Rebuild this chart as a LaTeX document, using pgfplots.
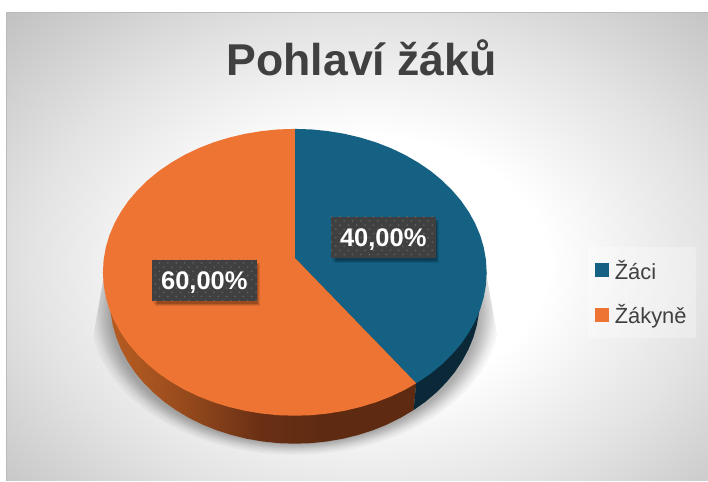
\documentclass[border=0pt]{standalone}
\usepackage{fontspec}
\setmainfont{Liberation Sans}
\usepackage{pgfplots}
\pgfplotsset{compat=1.18}
\usetikzlibrary{patterns.meta}
\definecolor{blueT}{HTML}{146183}
\definecolor{orangeT}{HTML}{EE7433}
\definecolor{blueL}{HTML}{156082}
\definecolor{orangeL}{HTML}{E97132}
\definecolor{blueS}{HTML}{0A2837}
\definecolor{oA}{HTML}{B85C22}
\definecolor{oB}{HTML}{A8541F}
\definecolor{oC}{HTML}{8F461B}
\definecolor{oD}{HTML}{6A3015}
\definecolor{oE}{HTML}{5E2B12}
\definecolor{txt}{HTML}{404040}
\pgfdeclareradialshading{bgpanel}{\pgfpointorigin}{color(0bp)=(white); color(12bp)=(white); color(23bp)=(black!11); color(34bp)=(black!24); color(100bp)=(black!24)}
\pgfdeclareverticalshading{sideorange}{100bp}{color(0bp)=(oA); color(25bp)=(oA); color(32.5bp)=(oB); color(40bp)=(oC); color(50bp)=(oD); color(60bp)=(oE); color(100bp)=(oE)}
\newcommand{\datalabel}[3]{%
  \fill[black,opacity=.08] (axis cs:#1+1,#2+3) rectangle (axis cs:#1+106,#2+44);
  \fill[black,opacity=.10] (axis cs:#1+3,#2+3) rectangle (axis cs:#1+108,#2+46);
  \fill[black,opacity=.10] (axis cs:#1+4,#2+4) rectangle (axis cs:#1+107,#2+45);
  \fill[black,opacity=.12] (axis cs:#1+5,#2+5) rectangle (axis cs:#1+106,#2+44);
  \fill[txt] (axis cs:#1,#2) rectangle (axis cs:#1+105,#2+41);
  \begin{scope}
  \clip (axis cs:#1,#2) rectangle (axis cs:#1+105,#2+41);
  \fill[pattern={Dots[distance=8.4bp,radius=.9bp]},pattern color=white!18!txt] (axis cs:#1,#2) rectangle (axis cs:#1+105,#2+41);
  \fill[pattern={Dots[distance=8.4bp,radius=.9bp,xshift=4.2bp,yshift=4.2bp]},pattern color=white!18!txt] (axis cs:#1,#2) rectangle (axis cs:#1+105,#2+41);
  \end{scope}
  \node[text=white,inner sep=0pt,font=\bfseries\fontsize{25.6}{28}\selectfont] at (axis cs:#1+52.5,#2+22.5) {#3};
}
\newcommand{\shadowlayer}[2]{\fill[black,opacity=.035] (axis cs:295,312) ellipse [x radius=#1,y radius=#2];}
\begin{document}
\begin{tikzpicture}
\begin{axis}[
  width=708bp,height=481bp,scale only axis,
  xmin=0,xmax=708,ymin=0,ymax=481,y dir=reverse,
  axis lines=none,clip=false,
  title={Pohlaví žáků},
  title style={at={(axis cs:362,64)},anchor=center,inner sep=0pt,text=txt,font=\bfseries\fontsize{44.8}{50}\selectfont},
  legend style={at={(axis cs:588,247)},anchor=north west,draw=none,fill=white,fill opacity=.3,text opacity=1,
    font=\fontsize{22}{25}\selectfont,text=txt,cells={anchor=west},row sep=20bp,inner xsep=7bp,inner ysep=11bp},
  legend image code/.code={\fill[#1,draw=none,fill opacity=1] (0bp,-7bp) rectangle (14bp,7bp);\path (0bp,0bp) -- (18bp,0bp);},
]
% panel
\fill[white] (axis cs:0,0) rectangle (axis cs:708,481);
\begin{scope}
\clip (axis cs:6.5,12.5) rectangle (axis cs:708,481);
\shade[shading=bgpanel] (axis cs:0,0) rectangle (axis cs:740,530);
\end{scope}
\draw[black!27,line width=1bp] (axis cs:6.5,481) -- (axis cs:6.5,12.5) -- (axis cs:708,12.5);
% shadow of the pie
\begin{scope}
\clip (axis cs:105,270) -- (axis cs:91,350) -- (axis cs:60,481) -- (axis cs:540,481) -- (axis cs:500,350) -- (axis cs:486,270) -- cycle;
\shadowlayer{205}{143}
\shadowlayer{202}{141}
\shadowlayer{199}{139.5}
\shadowlayer{197}{138}
\shadowlayer{195}{137}
\shadowlayer{193}{136}
\shadowlayer{191}{135}
\shadowlayer{189}{134}
\shadowlayer{187}{133}
\shadowlayer{185}{132}
\end{scope}
% side of the pie
\addplot[forget plot,draw=none,shading=sideorange,shading angle=270] coordinates {
(416.5,383.5)(413.9,410.4)(401.1,418)(387.5,424.8)(373.1,430.6)(358.3,435.3)(342.9,439.1)(327.1,441.8)(311.1,443.5)(295,444)(278.9,443.5)(262.9,441.8)(247.1,439.1)(231.7,435.3)(216.9,430.6)(202.5,424.8)(188.9,418.1)(176.1,410.4)(164.2,402)(153.3,392.7)(143.4,382.7)(134.8,372.25)(127.4,361.1)(121.2,349.6)(116.3,337.6)(112.8,325.4)(110.7,313)(110,300.5)(103,272.5)(295,258)(416.5,383.5)};
\addplot[forget plot,draw=none,fill=blueS] coordinates {
(416.5,383.5)(413.9,410.4)(425.8,402)(436.7,392.7)(446.6,382.7)(455.2,372.25)(462.6,361.1)(468.8,349.6)(473.7,337.6)(477.2,325.4)(479.3,313)(480,300.5)(487,272.5)(295,258)(416.5,383.5)};
% top of the pie: Žáci 40 %
\addplot[draw=none,fill=blueT] coordinates {
(295,258)(295,129)(311.7,129.5)(328.3,131.2)(344.7,133.9)(360.7,137.7)(376.1,142.4)(391,148.2)(405.1,154.9)(418.4,162.6)(430.8,171)(442.1,180.3)(452.3,190.3)(461.3,200.75)(469,211.9)(475.4,223.4)(480.5,235.4)(484.1,247.6)(486.3,260)(487,272.5)(486.3,285)(484.1,297.4)(480.5,309.6)(475.4,321.6)(469,333.1)(461.3,344.25)(452.3,354.7)(442.1,364.7)(430.8,374)(418.4,382.4)(416.5,383.5)(295,258)};
\addlegendentry{Žáci}
% top of the pie: Žákyně 60 %
\addplot[draw=none,fill=orangeT] coordinates {
(295,258)(416.5,383.5)(405.1,390.1)(391,396.8)(376.1,402.6)(360.7,407.3)(344.7,411.1)(328.3,413.8)(311.7,415.5)(295,416)(278.3,415.5)(261.7,413.8)(245.3,411.1)(229.3,407.3)(213.9,402.6)(199,396.8)(184.9,390.1)(171.6,382.4)(159.2,374)(147.9,364.7)(137.7,354.7)(128.7,344.25)(121,333.1)(114.6,321.6)(109.5,309.6)(105.9,297.4)(103.7,285)(103,272.5)(103.7,260)(105.9,247.6)(109.5,235.4)(114.6,223.4)(121,211.9)(128.7,200.75)(137.7,190.3)(147.9,180.3)(159.2,171)(171.6,162.6)(184.9,154.9)(199,148.2)(213.9,142.4)(229.3,137.7)(245.3,133.9)(261.7,131.2)(278.3,129.5)(295,129)(295,258)};
\addlegendentry{Žákyně\hspace{3bp}}
\datalabel{331}{217}{40,00\%}
\datalabel{152}{260}{60,00\%}
\end{axis}
\end{tikzpicture}
\end{document}
